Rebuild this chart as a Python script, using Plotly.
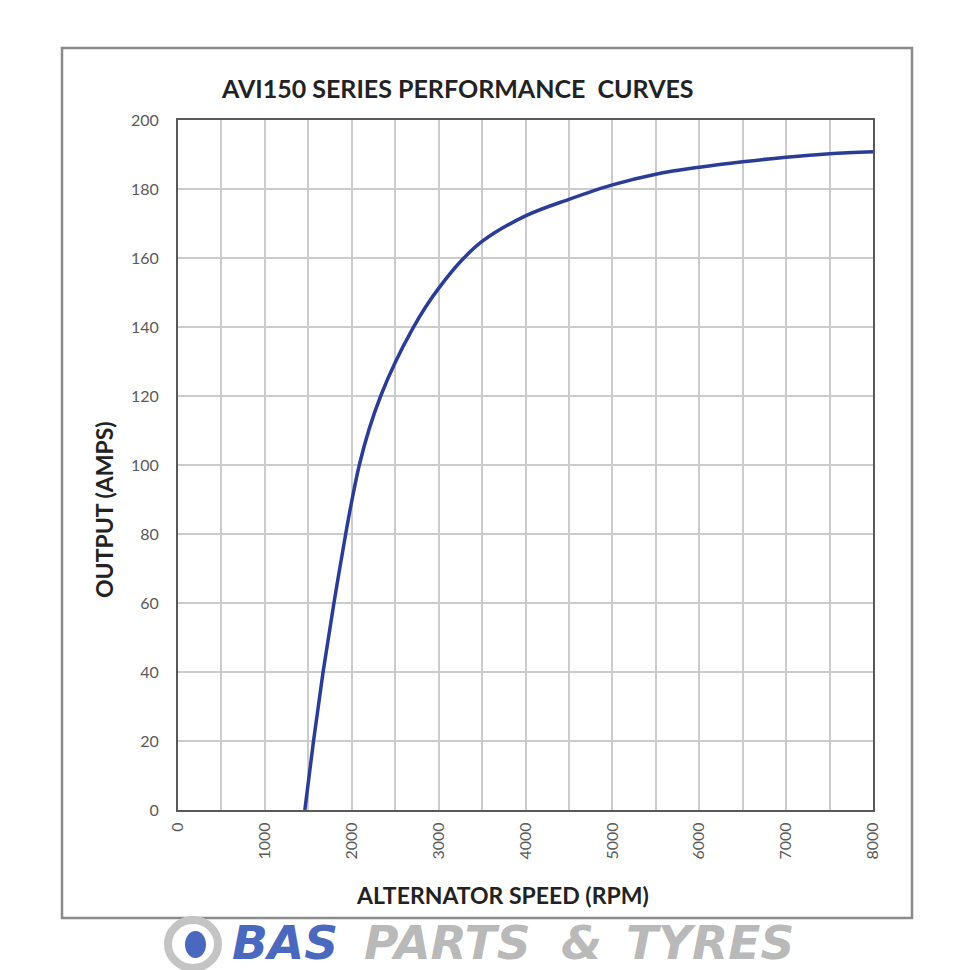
import plotly.graph_objects as go

# Data
rpm = [1460, 1560, 1670, 1795, 1930, 2000, 2087, 2200, 2333, 2500, 2701, 2850, 3000, 3250, 3500, 4000, 4500, 5000, 5500, 6000, 6500, 7000, 7500, 8000]
amps = [0, 20, 40, 60, 80, 89.5, 100, 110.4, 120, 129.7, 139.5, 145.8, 151.2, 158.9, 164.8, 172.2, 177.0, 181.2, 184.3, 186.3, 187.9, 189.2, 190.2, 190.8]

x_ticks = [0, 1000, 2000, 3000, 4000, 5000, 6000, 7000, 8000]
y_ticks = [0, 20, 40, 60, 80, 100, 120, 140, 160, 180, 200]

title_text = "AVI150 SERIES PERFORMANCE  CURVES"
x_title = "ALTERNATOR SPEED (RPM)"
y_title = "OUTPUT (AMPS)"
brand_words = ["BAS", "PARTS", "&amp;", "TYRES"]

W, H = 970, 970
L, R, T, B = 178, 873, 120, 810

def px(x):
    return (x - L) / (R - L)

def py(y):
    return (B - y) / (B - T)

fig = go.Figure()
fig.add_trace(go.Scatter(x=rpm, y=amps, mode="lines",
                         line=dict(color="#2B3C96", width=3.5, shape="spline", smoothing=1.0),
                         hoverinfo="skip", showlegend=False))

grid = "#cccccc"
tickfont = dict(family="Lato, Open Sans, sans-serif", size=16, color="#5a5a5a")
fig.update_layout(
    width=W, height=H,
    margin=dict(l=L, r=W - R, t=T, b=H - B),
    paper_bgcolor="white", plot_bgcolor="white",
    showlegend=False,
    xaxis=dict(range=[0, 8000], tickvals=x_ticks, ticktext=[str(v) for v in x_ticks],
               tickangle=-90, tickfont=tickfont, showgrid=True, gridcolor=grid, gridwidth=1.5,
               minor=dict(dtick=500, tick0=0, showgrid=True, gridcolor=grid, gridwidth=1.5),
               showline=True, linecolor="#595959", linewidth=2, mirror=True,
               zeroline=False, ticks="outside", ticklen=4, tickcolor="white"),
    yaxis=dict(range=[0, 200], tickvals=y_ticks, tickfont=tickfont,
               showgrid=True, gridcolor=grid, gridwidth=1.5,
               showline=True, linecolor="#595959", linewidth=2, mirror=True,
               zeroline=False, ticks="outside", ticklen=14, tickcolor="white"),
)

hdr = dict(family="Lato, Open Sans, sans-serif", color="#222222")
fig.add_annotation(text="<b>" + title_text + "</b>", xref="paper", yref="paper",
                   x=px(457), y=py(88), xanchor="center", yanchor="middle", showarrow=False,
                   font=dict(size=25, **hdr))
fig.add_annotation(text="<b>" + x_title + "</b>", xref="paper", yref="paper",
                   x=px(502), y=py(895), xanchor="center", yanchor="middle", showarrow=False,
                   font=dict(size=23, **hdr))
fig.add_annotation(text="<b>" + y_title + "</b>", xref="paper", yref="paper",
                   x=px(104), y=py(510), xanchor="center", yanchor="middle", showarrow=False,
                   textangle=-90, font=dict(size=23, **hdr))

# outer border
fig.add_shape(type="rect", xref="paper", yref="paper",
              x0=px(62), x1=px(912), y0=py(918), y1=py(48),
              line=dict(color="#8a8a8a", width=2.5))

# watermark logo
fig.add_shape(type="circle", xref="paper", yref="paper",
              x0=px(168), x1=px(218), y0=py(968), y1=py(920),
              line=dict(color="#c4c4c4", width=8), fillcolor="rgba(0,0,0,0)")
fig.add_shape(type="circle", xref="paper", yref="paper",
              x0=px(185), x1=px(206), y0=py(958), y1=py(931),
              line=dict(color="#4a68be", width=0), fillcolor="#4a68be")

word_x = [285, 447, 581, 710]
word_col = ["#4a68be", "#b9b9b9", "#b9b9b9", "#b9b9b9"]
for wtxt, wx, wc in zip(brand_words, word_x, word_col):
    fig.add_annotation(text="<b><i>" + wtxt + "</i></b>", xref="paper", yref="paper",
                       x=px(wx), y=py(942), xanchor="center", yanchor="middle", showarrow=False,
                       font=dict(family="DejaVu Sans, sans-serif", size=47, color=wc))

fig.write_html("out.html")
